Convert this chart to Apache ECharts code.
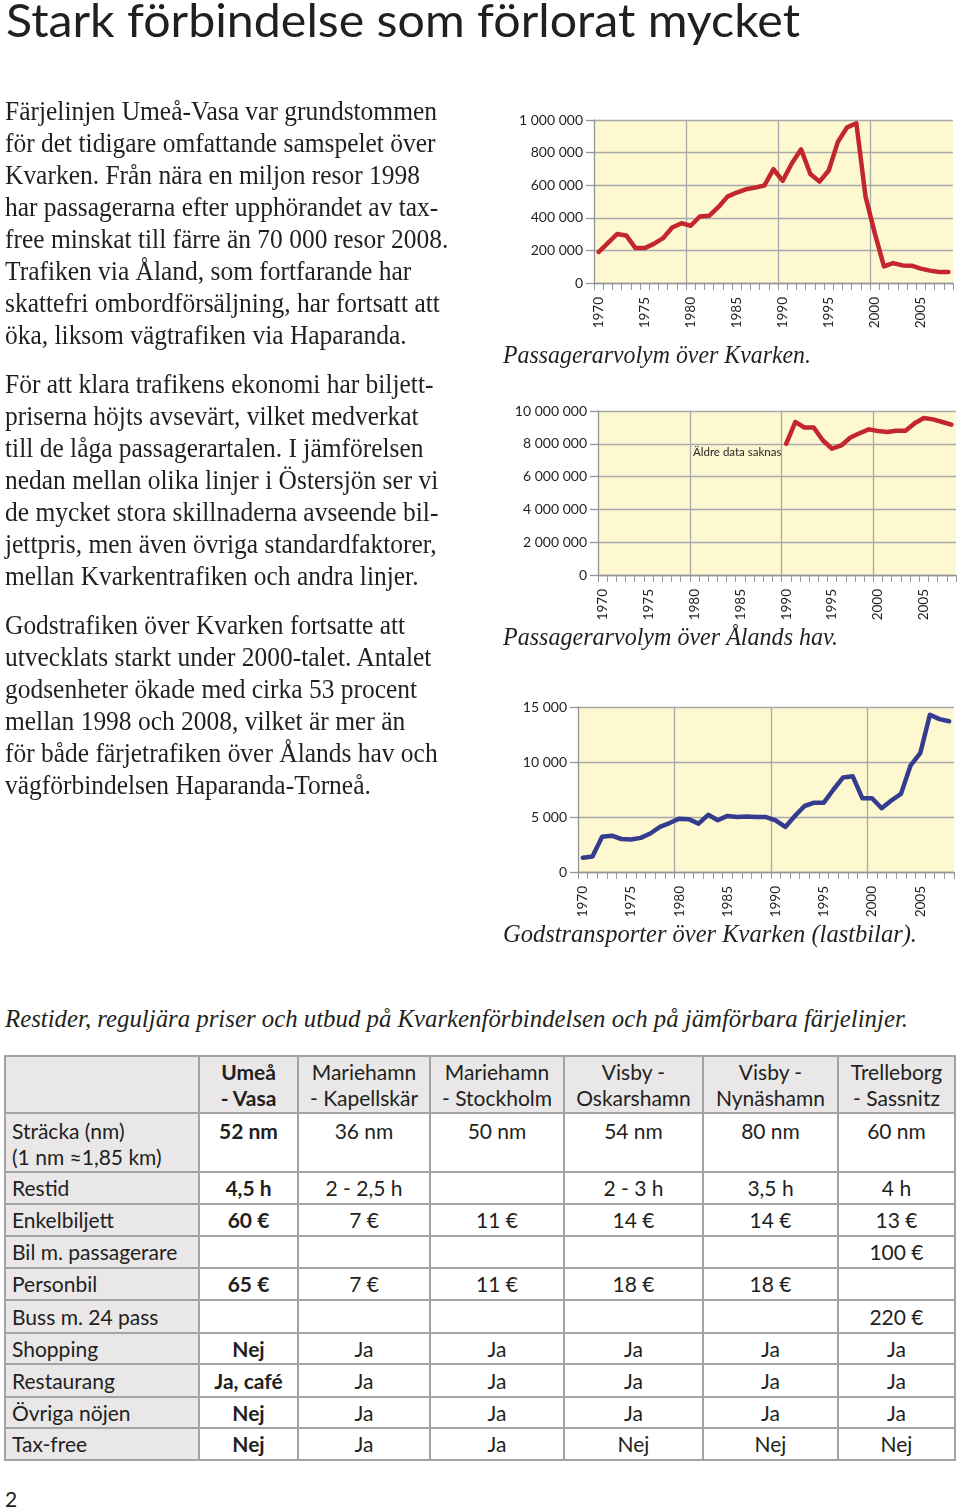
<!DOCTYPE html>
<html lang="sv">
<head>
<meta charset="utf-8">
<title>Stark förbindelse som förlorat mycket</title>
<script src="https://cdn.jsdelivr.net/npm/echarts@6.0.0/dist/echarts.min.js"></script>
<style>
html,body{margin:0;padding:0;background:#fff;}
body{width:960px;height:1509px;position:relative;overflow:hidden;color:#231f20;}
#chart{position:absolute;left:0;top:0;width:960px;height:960px;}
.t{position:absolute;white-space:pre;transform-origin:0 0;margin:0;}
#title{left:6px;top:-9px;font:47px/normal Lato,sans-serif;}
.para{left:5px;font:28px/32px "Liberation Serif",serif;}
.para span{display:block;width:max-content;}
.cap{font:italic 25px/32px "Liberation Serif",serif;}
.cell{position:absolute;box-sizing:border-box;font:21px/26px Lato,sans-serif;display:flex;white-space:pre;color:#231f20;}
.ln{position:absolute;background:#a3a3a3;}
#pg{left:5px;top:1486px;font:21px/normal Lato,sans-serif;}
</style>
</head>
<body>
<div id="chart"></div>
<div id="title" class="t">Stark förbindelse som förlorat mycket</div>
<div id="p1" class="t para" style="top:95px"></div>
<div id="p2" class="t para" style="top:368px"></div>
<div id="p3" class="t para" style="top:609px"></div>
<div id="c1" class="t cap" style="left:503px;top:339px">Passagerarvolym över Kvarken.</div>
<div id="c2" class="t cap" style="left:503px;top:621px">Passagerarvolym över Ålands hav.</div>
<div id="c3" class="t cap" style="left:503px;top:918px">Godstransporter över Kvarken (lastbilar).</div>
<div id="c4" class="t cap" style="left:5px;top:1003px">Restider, reguljära priser och utbud på Kvarkenförbindelsen och på jämförbara färjelinjer.</div>
<div id="tbl"></div>
<div id="pg" class="t">2</div>
<script>
// ---------- data ----------
const years = ['1970','1971','1972','1973','1974','1975','1976','1977','1978','1979',
               '1980','1981','1982','1983','1984','1985','1986','1987','1988','1989',
               '1990','1991','1992','1993','1994','1995','1996','1997','1998','1999',
               '2000','2001','2002','2003','2004','2005','2006','2007','2008'];
const kvarkenPassengers = [190000,245000,300000,292000,214000,214000,240000,275000,340000,367000,
                           351000,408000,412000,465000,530000,555000,575000,585000,598000,698000,
                           627000,735000,820000,669000,622000,690000,867000,955000,980000,530000,
                           306000,102000,122000,108000,106000,88000,76000,67000,67000];
const alandPassengers = [null,null,null,null,null,null,null,null,null,null,
                         null,null,null,null,null,null,null,null,null,null,
                         8000000,9330000,8990000,8990000,8200000,7700000,7900000,8380000,8640000,8880000,
                         8780000,8720000,8800000,8800000,9250000,9570000,9490000,9330000,9170000];
const kvarkenTrucks = [1300,1400,3200,3300,3000,2950,3100,3500,4100,4450,
                       4850,4800,4400,5200,4700,5100,5000,5050,5000,4990,
                       4700,4100,5100,6000,6300,6300,7500,8600,8700,6700,
                       6700,5800,6500,7100,9700,10800,14300,13900,13700];
const noteText = 'Äldre data saknas';

const paragraph1 = ['Färjelinjen Umeå-Vasa var grundstommen','för det tidigare omfattande samspelet över',
  'Kvarken. Från nära en miljon resor 1998','har passagerarna efter upphörandet av tax-',
  'free minskat till färre än 70 000 resor 2008.','Trafiken via Åland, som fortfarande har',
  'skattefri ombordförsäljning, har fortsatt att','öka, liksom vägtrafiken via Haparanda.'];
const paragraph2 = ['För att klara trafikens ekonomi har biljett-','priserna höjts avsevärt, vilket medverkat',
  'till de låga passagerartalen. I jämförelsen','nedan mellan olika linjer i Östersjön ser vi',
  'de mycket stora skillnaderna avseende bil-','jettpris, men även övriga standardfaktorer,',
  'mellan Kvarkentrafiken och andra linjer.'];
const paragraph3 = ['Godstrafiken över Kvarken fortsatte att','utvecklats starkt under 2000-talet. Antalet',
  'godsenheter ökade med cirka 53 procent','mellan 1998 och 2008, vilket är mer än',
  'för både färjetrafiken över Ålands hav och','vägförbindelsen Haparanda-Torneå.'];

const routes = ['Umeå\n- Vasa','Mariehamn\n- Kapellskär','Mariehamn\n- Stockholm','Visby -\nOskarshamn','Visby -\nNynäshamn','Trelleborg\n- Sassnitz'];
const rowLabels = ['Sträcka (nm)\n(1 nm \u22481,85 km)','Restid','Enkelbiljett','Bil m. passagerare','Personbil','Buss m. 24 pass','Shopping','Restaurang','Övriga nöjen','Tax-free'];
const tableValues = [
  ['52 nm','36 nm','50 nm','54 nm','80 nm','60 nm'],
  ['4,5 h','2 - 2,5 h','','2 - 3 h','3,5 h','4 h'],
  ['60 €','7 €','11 €','14 €','14 €','13 €'],
  ['','','','','','100 €'],
  ['65 €','7 €','11 €','18 €','18 €',''],
  ['','','','','','220 €'],
  ['Nej','Ja','Ja','Ja','Ja','Ja'],
  ['Ja, café','Ja','Ja','Ja','Ja','Ja'],
  ['Nej','Ja','Ja','Ja','Ja','Ja'],
  ['Nej','Ja','Ja','Nej','Nej','Nej']
];

// ---------- text ----------
function fillPara(id, lines){
  const el = document.getElementById(id);
  lines.forEach(l => { const s = document.createElement('span'); s.textContent = l; el.appendChild(s); });
  return el;
}
const p1 = fillPara('p1', paragraph1), p2 = fillPara('p2', paragraph2), p3 = fillPara('p3', paragraph3);
function natW(el){ return el.getBoundingClientRect().width; }
const bodyScale = 432 / natW(p1.firstChild);
[p1,p2,p3].forEach(p => p.style.transform = 'scaleX(' + bodyScale + ')');
function fit(id, target){ const el = document.getElementById(id); el.style.transform = 'scaleX(' + (target / natW(el)) + ')'; }
fit('title', 794);
fit('c1', 308); fit('c2', 335); fit('c3', 414); fit('c4', 903);

// ---------- table ----------
const colX = [5,199,298,430,564,703,838,955];
const rowY = [1056,1113,1172,1204,1236,1268,1300,1333,1364,1397,1428,1460];
const tbl = document.getElementById('tbl');
function cell(c, r, text){
  const d = document.createElement('div');
  d.className = 'cell';
  d.style.left = colX[c] + 'px'; d.style.top = rowY[r] + 'px';
  d.style.width = (colX[c+1]-colX[c]) + 'px'; d.style.height = (rowY[r+1]-rowY[r]) + 'px';
  d.style.background = (r === 0 || c === 0) ? '#e9e7e8' : '#fff';
  if (c === 0) { d.style.justifyContent = 'flex-start'; d.style.paddingLeft = '7px'; d.style.textAlign = 'left'; }
  else { d.style.justifyContent = 'center'; d.style.textAlign = 'center'; }
  d.style.alignItems = (r === 1) ? 'flex-start' : 'center';
  if (r === 1) d.style.paddingTop = '5px';
  if (c === 1) d.style.fontWeight = '700';
  d.textContent = text;
  tbl.appendChild(d);
}
cell(0,0,'');
routes.forEach((t,i) => cell(i+1, 0, t));
rowLabels.forEach((t,r) => {
  cell(0, r+1, t);
  tableValues[r].forEach((v,c) => cell(c+1, r+1, v));
});
colX.forEach(x => { const l = document.createElement('div'); l.className='ln';
  l.style.left=(x-1)+'px'; l.style.top=(rowY[0]-1)+'px'; l.style.width='2px'; l.style.height=(rowY[rowY.length-1]-rowY[0]+2)+'px'; tbl.appendChild(l); });
rowY.forEach(y => { const l = document.createElement('div'); l.className='ln';
  l.style.left=(colX[0]-1)+'px'; l.style.top=(y-1)+'px'; l.style.height='2px'; l.style.width=(colX[colX.length-1]-colX[0]+2)+'px'; tbl.appendChild(l); });

// ---------- charts ----------
const AXC = '#939598', GRC = '#a7a9ac', BG = '#fdf8d0', TXT = '#231f20';
const RED = '#c4262e', BLUE = '#353c8f';
const fmt = v => String(v).replace(/\B(?=(\d{3})+(?!\d))/g, ' ');
const gridBoxes = [
  {left:594, top:120, width:359, height:163},
  {left:598, top:411, width:358, height:164},
  {left:578, top:707, width:376, height:165}
];
const xAxisFor = gi => ({
  type:'category', gridIndex:gi, data:years, boundaryGap:true,
  axisLine:{show:true, onZero:false, lineStyle:{color:AXC, width:1.3}},
  axisTick:{show:true, interval:0, length:7, inside:false, alignWithLabel:false, lineStyle:{color:AXC, width:1}},
  axisLabel:{show:true, interval:4, rotate:90, margin:14, fontFamily:'Lato', fontSize:13.5, color:TXT},
  splitLine:{show:true, interval:9, showMinLine:false, showMaxLine:false, lineStyle:{color:GRC, width:1.3}}
});
const yAxisFor = (gi, max, interval) => ({
  type:'value', gridIndex:gi, min:0, max:max, interval:interval,
  axisLine:{show:true, lineStyle:{color:AXC, width:1.3}},
  axisTick:{show:true, length:8, inside:false, lineStyle:{color:AXC, width:1.3}},
  axisLabel:{show:true, margin:11, formatter:fmt, fontFamily:'Lato', fontSize:14, color:TXT},
  splitLine:{show:true, lineStyle:{color:GRC, width:1.3}}
});
const lineSeries = (gi, data, color) => ({
  type:'line', xAxisIndex:gi, yAxisIndex:gi, data:data, symbol:'none', showSymbol:false,
  connectNulls:false, silent:true,
  lineStyle:{color:color, width:4.5, cap:'round', join:'round'}
});
const chart = echarts.init(document.getElementById('chart'), null, {renderer:'canvas'});
chart.setOption({
  animation:false,
  grid: gridBoxes.map(g => Object.assign({show:true, backgroundColor:BG, borderWidth:0, containLabel:false, outerBoundsMode:'none'}, g)),
  xAxis:[xAxisFor(0), xAxisFor(1), xAxisFor(2)],
  yAxis:[yAxisFor(0, 1000000, 200000), yAxisFor(1, 10000000, 2000000), yAxisFor(2, 15000, 5000)],
  series:[lineSeries(0, kvarkenPassengers, RED), lineSeries(1, alandPassengers, RED), lineSeries(2, kvarkenTrucks, BLUE)],
  graphic:[{type:'text', left:693, top:446, silent:true,
    style:{text:noteText, fontFamily:'Lato', fontSize:11.5, fill:TXT}}]
});
</script>
</body>
</html>
